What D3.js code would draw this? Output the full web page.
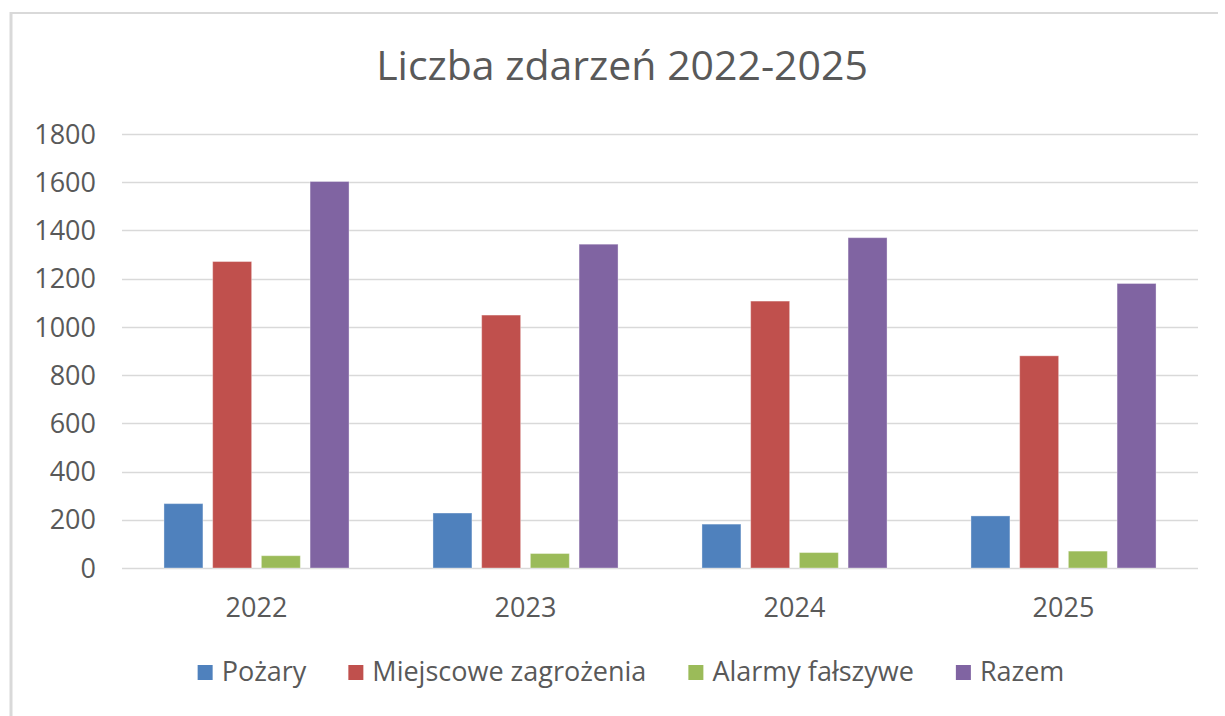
<!DOCTYPE html>
<html>
<head>
<meta charset="utf-8">
<script src="https://cdn.jsdelivr.net/npm/d3@7"></script>
<style>
  body { margin: 0; background: #fff; }
  text { font-family: "Open Sans", sans-serif; fill: #595959; }
</style>
</head>
<body>
<div id="chart"></div>
<script>
const years = ["2022", "2023", "2024", "2025"];
const seriesNames = ["Pożary", "Miejscowe zagrożenia", "Alarmy fałszywe", "Razem"];
const pozary = [267, 228, 182, 216];
const miejscowe = [1271, 1049, 1107, 880];
const alarmy = [51, 60, 64, 70];
const razem = [1603, 1343, 1370, 1180];
const yTicks = [0, 200, 400, 600, 800, 1000, 1200, 1400, 1600, 1800];
const colors = ["#4F81BD", "#C0504D", "#9BBB59", "#8064A2"];

const seriesValues = [pozary, miejscowe, alarmy, razem];

const width = 1225, height = 716;
const margin = { top: 134, right: 27, bottom: 148, left: 122 };

const svg = d3.select("#chart").append("svg")
    .attr("width", width)
    .attr("height", height);

// chart frame (only top and left edges are visible in the picture)
svg.append("line")
    .attr("x1", 11).attr("x2", 1218).attr("y1", 13).attr("y2", 13)
    .attr("stroke", "#d9d9d9").attr("stroke-width", 2);
svg.append("line")
    .attr("x1", 11).attr("x2", 11).attr("y1", 12).attr("y2", height)
    .attr("stroke", "#d9d9d9").attr("stroke-width", 3);

const x = d3.scaleBand()
    .domain(years)
    .range([margin.left, width - margin.right])
    .paddingInner(0.312)
    .paddingOuter(0.156);

const xs = d3.scaleBand()
    .domain(seriesNames)
    .range([0, x.bandwidth()])
    .paddingInner(0.2);

const y = d3.scaleLinear()
    .domain([0, 1800])
    .range([height - margin.bottom, margin.top]);

// gridlines
svg.append("g")
    .selectAll("line")
    .data(yTicks)
    .join("line")
    .attr("x1", margin.left)
    .attr("x2", width - margin.right)
    .attr("y1", d => Math.round(y(d)) + 0.5)
    .attr("y2", d => Math.round(y(d)) + 0.5)
    .attr("stroke", "#d9d9d9")
    .attr("stroke-width", 1.5);

// y labels
svg.append("g")
    .selectAll("text")
    .data(yTicks)
    .join("text")
    .attr("x", 96)
    .attr("y", d => y(d))
    .attr("dy", "0.36em")
    .attr("text-anchor", "end")
    .style("font-size", "27px")
    .text(d => d);

// bars
const groups = svg.append("g")
    .selectAll("g")
    .data(years)
    .join("g")
    .attr("transform", d => `translate(${x(d)},0)`);

groups.selectAll("rect")
    .data((yr, i) => seriesNames.map((s, j) => ({ s, j, v: seriesValues[j][i] })))
    .join("rect")
    .attr("x", d => xs(d.s))
    .attr("width", xs.bandwidth())
    .attr("y", d => y(d.v))
    .attr("height", d => y(0) - y(d.v))
    .attr("fill", d => colors[d.j])
    .attr("stroke", "rgba(255,255,255,0.35)")
    .attr("stroke-width", 1);

// x labels
svg.append("g")
    .selectAll("text")
    .data(years)
    .join("text")
    .attr("x", d => x(d) + x.bandwidth() / 2)
    .attr("y", 617)
    .attr("text-anchor", "middle")
    .style("font-size", "27px")
    .text(d => d);

// title
svg.append("text")
    .attr("x", 622)
    .attr("y", 80)
    .attr("text-anchor", "middle")
    .style("font-size", "41px")
    .text("Liczba zdarzeń 2022-2025");

// legend
const legend = svg.append("g");
const items = legend.selectAll("g")
    .data(seriesNames)
    .join("g");

items.append("rect")
    .attr("width", 15)
    .attr("height", 15)
    .attr("y", 665)
    .attr("fill", (d, i) => colors[i]);

items.append("text")
    .attr("x", 24)
    .attr("y", 681)
    .style("font-size", "27px")
    .text(d => d);

let cursor = 0;
const offsets = [];
items.each(function () {
    offsets.push(cursor);
    cursor += 24 + this.querySelector("text").getComputedTextLength() + 42;
});
const total = cursor - 42;
const startX = 631 - total / 2;
items.attr("transform", (d, i) => `translate(${startX + offsets[i]},0)`);
</script>
</body>
</html>
